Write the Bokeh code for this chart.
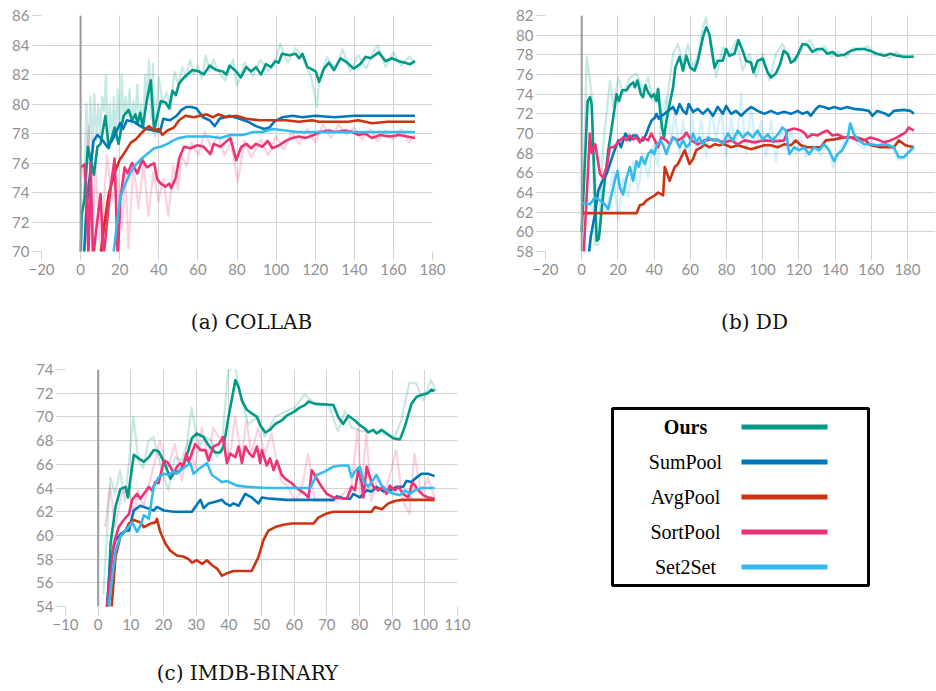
from bokeh.plotting import figure
from bokeh.models import Range1d, FixedTicker, Span, ColumnDataSource, BoxAnnotation
from bokeh.layouts import row, column
from bokeh.embed import file_html
from bokeh.resources import INLINE
from bokeh.core.properties import value

# ---------------- data ----------------
methods = ["Ours", "SumPool", "AvgPool", "SortPool", "Set2Set"]
colors = ["#009988", "#0077BB", "#CC3311", "#EE3377", "#33BBEE"]
legend_styles = ["bold", "normal", "normal", "normal", "normal"]
captions_top = ["(a) COLLAB", "(b) DD"]
captions_bottom = ["(c) IMDB-BINARY"]

a_xticks = [-20, 0, 20, 40, 60, 80, 100, 120, 140, 160, 180]
a_yticks = [70, 72, 74, 76, 78, 80, 82, 84, 86]
b_xticks = [-20, 0, 20, 40, 60, 80, 100, 120, 140, 160, 180, 200]
b_yticks = [58, 60, 62, 64, 66, 68, 70, 72, 74, 76, 78, 80, 82]
c_xticks = [-10, 0, 10, 20, 30, 40, 50, 60, 70, 80, 90, 100, 110]
c_yticks = [54, 56, 58, 60, 62, 64, 66, 68, 70, 72, 74]

# (a) COLLAB, smoothed curves
a_ours_x = [0, 0.5, 2, 3.7, 6.8, 8.6, 10.2, 12.7, 14.4, 17.4, 19.4, 22, 24.6, 26.3, 28, 29.1, 30.5, 31.8, 33.8, 35.9, 37.6, 41, 43.5, 45.3, 47, 48.7, 50.4, 52.9, 57.2, 60.6, 63, 66, 69.4, 72.8, 74.5, 76.2, 79.6, 82, 84.7, 87.2, 89.7, 92.3, 94.8, 97.4, 99.6, 101.3, 103, 106.7, 110, 111.8, 113.5, 116, 117.7, 120.3, 122, 124.5, 127, 129.6, 133, 136.4, 139.7, 143, 145.8, 148.3, 152.5, 156, 159.3, 162.7, 166, 168.6, 171]
a_ours_y = [69, 72.5, 73.5, 77.1, 75.2, 77.1, 77.3, 79.2, 77.0, 78.4, 77.3, 79.2, 79.6, 78.9, 79.3, 78.7, 79.4, 78.4, 80.2, 81.6, 78.2, 80.2, 80.1, 79.7, 80.9, 80.6, 81.4, 81.8, 82.3, 82.2, 82.0, 82.6, 82.3, 82.2, 82.0, 82.6, 82.2, 81.8, 82.5, 82.2, 82.5, 82.0, 82.7, 82.5, 82.9, 82.8, 83.4, 83.3, 83.4, 83.1, 83.4, 82.5, 82.4, 82.2, 81.5, 82.4, 82.8, 82.3, 83.1, 82.8, 82.4, 82.7, 83.2, 83.1, 83.5, 82.9, 83.1, 82.9, 82.8, 82.7, 82.9]
a_sum_x = [1.5, 3, 6.6, 8.6, 11, 13.6, 16, 20.3, 21.7, 23.7, 27.1, 30.5, 33.9, 37.3, 40.6, 42.3, 45.7, 49.1, 51.6, 54.2, 56.7, 59.3, 62.6, 66, 68.6, 71.1, 76.2, 81.3, 85.6, 89.7, 93.9, 96.6, 99, 103.3, 108.3, 113.5, 120, 130, 140, 150, 160, 171]
a_sum_y = [69, 73, 77.5, 77.9, 77.6, 77.1, 77.5, 78.7, 78.3, 78.9, 78.8, 78.5, 78.3, 78.2, 78.1, 79.0, 78.9, 79.2, 79.6, 79.8, 79.8, 79.7, 79.1, 78.9, 78.5, 79.0, 79.2, 79.0, 78.8, 78.5, 78.3, 78.4, 78.8, 79.1, 79.2, 79.1, 79.2, 79.1, 79.2, 79.2, 79.2, 79.2]
a_avg_x = [10, 12.4, 14.4, 17.4, 19.9, 22.5, 25.8, 28.2, 31.6, 35, 37.6, 40.1, 41.8, 44.4, 47.7, 50.4, 53.6, 57.9, 61.2, 64.4, 67.7, 70.3, 74.5, 79.6, 84.7, 91.4, 98.1, 104.9, 111.6, 118.4, 121.8, 128.5, 137, 142, 149, 157, 171]
a_avg_y = [69.5, 72.1, 73.9, 75.3, 76.2, 76.7, 77.4, 77.6, 78.1, 78.5, 78.2, 78.3, 77.9, 78.2, 78.4, 78.9, 79.2, 79.1, 79.2, 79.3, 79.1, 79.3, 79.1, 79.2, 79.0, 78.9, 78.9, 78.9, 78.8, 78.9, 78.8, 78.8, 78.8, 78.9, 78.7, 78.8, 78.8]
a_sort_x = [0, 2, 3, 4, 5.1, 6.4, 8, 10.2, 11.7, 13.6, 15.5, 17.4, 19, 20.3, 22.5, 24.1, 26.3, 29, 31.6, 33.9, 37.6, 39.2, 41, 43.5, 45.3, 46.4, 48.7, 50.4, 52.9, 56.3, 59.7, 63, 66.4, 68.1, 71.5, 74.9, 76.6, 79.6, 82.2, 84.7, 87.2, 89.7, 93, 95.7, 98.1, 101.6, 104.9, 108.3, 111.6, 115, 119.2, 122.6, 126.9, 130.2, 135.3, 139, 142.2, 145.5, 149, 153.2, 158, 163, 167, 171]
a_sort_y = [75.7, 75.9, 74.3, 69.5, 76.0, 69.5, 71.5, 73.9, 69.5, 72.1, 74.5, 76.3, 69.5, 73.5, 75.7, 75.3, 76.0, 75.3, 76.2, 75.7, 76.0, 74.9, 74.6, 74.4, 74.6, 74.3, 75.0, 76.3, 77.1, 77.0, 77.2, 77.1, 76.6, 77.3, 77.1, 77.5, 77.7, 76.2, 77.1, 77.3, 77.0, 77.3, 77.1, 77.5, 77.0, 77.2, 77.5, 77.7, 77.8, 77.7, 77.9, 78.1, 78.2, 78.1, 78.2, 78.1, 77.9, 78.0, 77.7, 77.9, 77.8, 77.9, 77.8, 77.7]
a_s2s_x = [16.5, 19, 20.3, 22.9, 25.4, 27.1, 30.5, 33.9, 37.6, 41, 44.4, 47, 50.4, 54.6, 61.2, 66, 71.5, 76.6, 83, 88.3, 93, 98.1, 104.9, 111, 120, 135, 150, 160, 171]
a_s2s_y = [69.5, 72.3, 73.7, 74.6, 75.3, 75.7, 76.2, 76.6, 77.0, 77.1, 77.3, 77.5, 77.7, 77.8, 77.8, 77.8, 77.7, 77.9, 77.9, 78.1, 78.1, 78.3, 78.2, 78.1, 78.1, 78.1, 78.1, 78.1, 78.1]
# (a) raw (unsmoothed) traces
a_ours_raw_x = [0, 2, 3, 4, 5, 6, 7, 8, 9, 10, 11, 12, 13, 14, 15, 16, 17, 18, 19, 20, 21, 22, 23, 24, 25, 26, 27, 28, 29, 30, 31, 32, 33, 34, 35, 36, 37, 38, 40, 42, 44, 46, 48, 50, 52, 54, 56, 58, 60, 62, 64, 66, 68, 70, 74, 78, 80, 84, 88, 92, 96, 100, 102, 106, 110, 114, 118, 121, 122, 126, 130, 134, 138, 142, 146, 150, 152, 156, 160, 164, 168, 171]
a_ours_raw_y = [70, 75, 80, 76, 80.5, 77, 80.7, 77.5, 80, 78, 80.5, 79.5, 82, 77, 80, 77.5, 80.5, 77.6, 81, 78, 82, 79, 80.5, 79.2, 81, 78.6, 80.2, 79, 81.3, 78.5, 80, 78, 82, 80, 83, 79, 82.7, 77.8, 81.8, 80, 80.8, 79.6, 82.2, 81.3, 82.5, 81.8, 83, 82, 82.6, 81.7, 83.3, 82.2, 83, 82.3, 81.6, 83, 81.2, 82.8, 81.9, 83, 82.2, 83.1, 84.1, 82.8, 83.8, 83, 81.8, 79.8, 81.6, 83.2, 82.3, 83.7, 82.2, 83.3, 82.4, 83.6, 84, 82.5, 83.5, 82.6, 83.2, 82.8]
a_sort_raw_x = [0, 2.5, 4.2, 5.9, 7.6, 10.2, 13.5, 16.1, 18.6, 21.2, 22.9, 24.5, 27.1, 29.6, 32.2, 34.7, 37.2, 39.8, 42.3, 44.9, 47.4, 49.9, 51.6, 54.2, 56.7, 60.1, 63.5, 66.9, 70.2, 73.6, 77, 80.4, 83.8, 87.2, 92.3, 96, 100, 104, 108, 112, 116, 120, 124, 128, 132, 136, 140, 144, 148, 152, 156, 160, 164, 168, 171]
a_sort_raw_y = [75.8, 74.8, 78.5, 70, 75.8, 70, 76.5, 73.4, 75.2, 71.5, 75.4, 70.2, 76, 72.9, 76, 72.4, 75.4, 73.4, 74.9, 72.4, 75.8, 74.2, 76.5, 75.8, 77.4, 76.5, 78.1, 77, 77.9, 76.5, 77.4, 74.7, 77.5, 76.4, 77.6, 76.5, 77.8, 76.9, 78.1, 77.3, 78.3, 77.4, 78.6, 77.7, 78.6, 77.9, 78.4, 77.6, 78.3, 77.5, 78.2, 77.6, 78.3, 77.4, 77.9]

# (b) DD, smoothed curves
b_ours_x = [0, 3.3, 4.6, 5.5, 8.3, 9.5, 11.9, 14.7, 17.4, 19.3, 20.6, 22.4, 24.8, 26.6, 28.4, 29.4, 30.8, 32.7, 33.9, 35.2, 36.7, 38.5, 40, 41.3, 42.2, 43.1, 44.4, 45.5, 46.8, 48.6, 50.5, 51.7, 54.1, 56, 57.8, 60, 62.4, 64.2, 67, 68.8, 70.6, 73.4, 75.2, 78, 79.8, 81.7, 84.4, 86.6, 89, 90.8, 93.6, 94.9, 97.2, 100, 102.8, 104.6, 107.3, 109.7, 111.6, 113.8, 115.6, 117.4, 119.6, 122, 124.8, 127.5, 130.3, 133, 135.8, 138.5, 141.3, 145, 148.6, 152.3, 156, 159.6, 163.3, 167, 170.6, 174.3, 178, 183.5]
b_ours_y = [60, 73.3, 73.7, 73.0, 59.1, 59.3, 63.8, 68.3, 71.6, 74.0, 73.3, 74.4, 74.4, 74.9, 75.2, 74.7, 75.4, 74.0, 73.7, 74.9, 74.2, 73.7, 74.0, 73.3, 74.5, 72.7, 70.6, 69.6, 71.3, 73.0, 74.7, 76.7, 77.8, 76.4, 77.9, 76.7, 76.4, 77.4, 79.8, 80.8, 80.1, 76.7, 77.4, 77.4, 78.6, 77.9, 78.1, 79.5, 78.4, 77.4, 77.2, 76.2, 77.4, 77.6, 76.2, 75.7, 76.1, 77.1, 78.4, 78.1, 77.2, 77.4, 78.1, 79.1, 79.0, 78.3, 78.6, 78.6, 78.1, 78.3, 77.9, 78.0, 78.4, 78.6, 78.6, 78.4, 78.1, 77.9, 78.1, 77.9, 77.8, 77.8]
b_sum_x = [3.5, 5, 7.3, 9.2, 11, 13.8, 15.6, 17.4, 20.2, 21.7, 24.2, 26.6, 28.4, 30.3, 32.1, 33.9, 35.8, 36.7, 38.5, 40.4, 41.3, 42.6, 44, 45.9, 47.7, 50.5, 52.3, 54.1, 56, 57.8, 59.1, 61.5, 64.2, 67, 69.7, 72.5, 75.2, 78, 79.8, 82.6, 85.3, 88.1, 90.8, 93.6, 97.2, 100.9, 104.6, 108.3, 111.9, 115.6, 119.3, 122, 124.8, 126.6, 129.4, 131.2, 133.9, 136.7, 139.4, 143.1, 146.8, 150.5, 156, 158.7, 160.6, 163.3, 167.9, 169.7, 172.5, 178, 181.7, 183.5]
b_sum_y = [57, 59.5, 61.8, 64.2, 65.0, 65.9, 66.9, 67.9, 69.3, 68.6, 70.0, 69.3, 69.8, 69.8, 69.3, 69.3, 70.0, 70.5, 71.3, 71.6, 72.0, 71.5, 71.8, 72.0, 72.3, 72.7, 72.0, 73.0, 72.3, 72.0, 73.0, 72.2, 72.5, 72.0, 72.5, 71.8, 72.7, 72.0, 72.8, 72.0, 72.3, 71.8, 72.3, 72.7, 72.3, 72.0, 72.3, 72.0, 72.2, 72.0, 72.3, 72.0, 72.2, 71.8, 72.5, 72.8, 72.7, 72.5, 72.7, 72.5, 72.7, 72.5, 72.4, 72.3, 71.8, 72.3, 72.0, 71.8, 72.3, 72.4, 72.3, 72.0]
b_avg_x = [0, 30.3, 32.1, 33.9, 35.8, 38.5, 40.4, 42.2, 45, 45.9, 48.6, 51.4, 53.2, 55, 56.9, 59.6, 61.5, 63.3, 66.1, 67.9, 70.6, 73.4, 76.1, 78.9, 82.6, 86.2, 89.9, 93.6, 97.2, 100.9, 104.6, 108.3, 111.9, 115.6, 118.3, 121.1, 124.8, 132.1, 134.9, 139.4, 145, 152.3, 156.9, 159.6, 165.1, 172.5, 175.2, 178.9, 183.5]
b_avg_y = [61.9, 61.9, 62.7, 62.8, 63.2, 63.5, 63.7, 64.0, 63.7, 66.6, 65.2, 66.6, 66.9, 67.6, 68.3, 66.9, 67.4, 68.3, 68.6, 68.9, 68.6, 68.9, 68.8, 68.9, 68.6, 68.8, 68.6, 68.4, 68.6, 68.8, 68.8, 68.6, 68.9, 68.8, 69.3, 68.8, 68.6, 68.6, 69.3, 69.4, 69.6, 69.6, 69.3, 68.8, 68.6, 68.6, 69.3, 68.8, 68.6]
b_sort_x = [1, 2.8, 4.5, 5.5, 7.5, 10.1, 11.9, 13.8, 15.6, 17.4, 19.3, 21.1, 22.9, 24.8, 26.6, 28.4, 30.3, 32.1, 33.9, 36.7, 38.5, 40.4, 42.2, 44, 46.8, 48.6, 50.5, 53.2, 56, 57.8, 60.6, 64.2, 67.9, 71.6, 75.2, 78.9, 82.6, 86.2, 89.9, 95.4, 100.9, 106.4, 111.9, 113.8, 117.4, 121.1, 122.9, 124.8, 127.5, 130.3, 133, 135.8, 138.5, 141.3, 145, 148.6, 152.3, 156, 159.6, 163.3, 167, 170.6, 174.3, 177, 178.9, 180.7, 183.5]
b_sort_y = [57.5, 63.8, 70.0, 68.0, 68.9, 65.9, 65.5, 66.6, 68.6, 68.6, 68.9, 69.3, 69.6, 69.3, 69.8, 69.4, 69.6, 69.1, 69.6, 69.3, 70.0, 69.3, 68.6, 69.6, 69.3, 68.9, 69.6, 69.3, 69.6, 70.1, 69.3, 68.9, 69.3, 69.4, 69.3, 69.1, 69.3, 68.9, 69.3, 69.1, 69.3, 69.2, 69.3, 70.3, 70.5, 70.3, 70.1, 69.6, 69.9, 69.8, 70.1, 70.3, 69.8, 69.9, 69.6, 69.6, 69.3, 69.3, 69.6, 69.4, 69.1, 69.3, 69.6, 69.9, 70.1, 70.6, 70.3]
b_s2s_x = [0.5, 4.6, 7.3, 10.1, 12.8, 14.7, 16.5, 18.3, 19.8, 21.1, 22.9, 24.8, 26.6, 28.4, 30.3, 31.6, 33, 34.9, 36.7, 38.5, 40, 41.8, 43.7, 45.5, 46.8, 48.6, 50.5, 52.3, 54.1, 56, 57.8, 59.6, 61.5, 63.3, 65.1, 67, 69.7, 72.5, 75.2, 78, 80.7, 83.5, 86.2, 89, 91.7, 94.5, 97.2, 100, 102.8, 105.5, 108.3, 111, 112.8, 114.7, 117.4, 120.2, 122.9, 125.7, 128.4, 131.2, 133.9, 136.7, 139.4, 141.3, 144, 146.8, 148.3, 150.5, 153.2, 156, 159.6, 163, 168, 172.5, 175.2, 178, 180.7, 183.5]
b_s2s_y = [62.9, 62.8, 63.5, 63.2, 62.8, 62.3, 63.8, 65.2, 66.2, 64.5, 63.8, 65.5, 66.6, 65.2, 67.2, 66.6, 67.6, 66.9, 67.9, 68.3, 67.9, 68.9, 69.3, 68.6, 67.9, 68.9, 69.6, 69.3, 68.6, 69.3, 68.6, 68.9, 70.0, 69.1, 69.6, 68.9, 69.6, 69.3, 69.4, 68.9, 70.0, 69.3, 70.3, 69.6, 70.1, 69.6, 70.3, 69.4, 69.9, 69.3, 69.9, 70.6, 70.3, 67.9, 68.6, 68.3, 68.6, 67.9, 68.6, 68.3, 68.9, 68.3, 67.2, 67.9, 68.3, 69.3, 71.0, 69.9, 69.3, 68.9, 68.9, 68.8, 68.9, 68.6, 67.6, 67.6, 68.1, 68.6]
# (b) raw traces
b_ours_raw_x = [0, 2.8, 5.5, 7.3, 9.2, 11.9, 15.6, 17.4, 20.2, 22.9, 26.6, 30.3, 33.9, 36.7, 39.4, 42.2, 45, 47.7, 50.5, 53.2, 56, 58.7, 61.5, 64.2, 67, 68.8, 71.6, 74.3, 78, 81.7, 85.3, 89, 92.7, 96.3, 100, 103.7, 107.3, 111, 114.7, 118.3, 122, 126, 130, 134, 138, 142, 146, 150, 154, 158, 162, 166, 170, 174, 178, 183.5]
b_ours_raw_y = [60, 77.8, 74, 58.7, 58.7, 68.9, 75.4, 72.7, 75.7, 74, 75.7, 76.1, 74.4, 75.7, 73.3, 74.7, 71.3, 74, 78.1, 79.1, 77.1, 79.1, 76.7, 77.8, 80.8, 81.8, 78.4, 75.7, 78.8, 77.8, 79.5, 76.4, 78.1, 75.7, 78.1, 75.4, 78.1, 79.1, 77.8, 77.4, 78.8, 79.5, 78.2, 78.9, 77.8, 78.3, 77.7, 78.7, 78.4, 78.9, 77.9, 78.2, 77.6, 78.3, 77.6, 77.9]
b_s2s_raw_x = [0.5, 2.8, 6.4, 10.1, 13.8, 17.4, 20.2, 22.9, 25.7, 28.4, 31.2, 33.9, 36.7, 39.4, 42.2, 44, 46.8, 49.5, 51.4, 54.1, 56, 58.7, 60.6, 63.3, 66.1, 68.8, 71.6, 74.3, 77.1, 79.8, 82.6, 85.3, 88.1, 90.8, 93.6, 96.3, 99.1, 101.8, 104.6, 107.3, 110.1, 112.8, 115.6, 118.3, 121.1, 123.9, 128, 132, 136, 139, 143, 147, 149, 152, 156, 160, 165, 170, 175, 179, 183.5]
b_s2s_raw_y = [62.9, 63.5, 62.1, 64.9, 62.1, 66.2, 61.1, 65.5, 63.5, 67.2, 64.2, 67.9, 65.5, 68.9, 66.6, 72.3, 73.7, 68.9, 72.3, 67.9, 71.3, 66.9, 72, 68.3, 71.3, 67.6, 72.3, 69.6, 72.3, 67.6, 71.6, 68.3, 74, 67.9, 72.7, 68.3, 71.3, 67.6, 71.3, 67.2, 70.6, 68.3, 70.3, 67.9, 69.6, 67.6, 68.9, 67.8, 68.8, 66.5, 68.5, 70, 71.2, 69, 68.5, 69.2, 68.4, 69, 67.3, 67.6, 68.8]

# (c) IMDB-BINARY, smoothed curves
c_ours_x = [2.8, 3.8, 5.3, 6.8, 8.4, 9.1, 10.9, 12.4, 14, 15.5, 17, 18.5, 19.6, 20.6, 22.1, 23.1, 25.2, 26.7, 28.7, 30.2, 32.3, 33.8, 35.8, 37.4, 38.4, 39.9, 42, 43, 44, 45.5, 47, 48.6, 49.6, 51.1, 52.6, 54.2, 56.2, 57.7, 59.8, 61.8, 63.3, 64.4, 66.4, 72, 73.5, 75, 76.6, 78.6, 80.1, 81.7, 82.7, 84.2, 85.2, 86.8, 88.8, 90.3, 92.4, 93.9, 95.9, 97.5, 99.5, 101, 102, 103]
c_ours_y = [53.5, 59.3, 62.4, 63.9, 64.1, 63.2, 66.8, 66.5, 66.2, 66.6, 67.2, 67.1, 66.5, 65.9, 64.8, 65.2, 65.5, 66.3, 68.2, 68.6, 68.3, 67.6, 67.0, 67.0, 67.5, 70.0, 73.1, 72.5, 71.4, 70.6, 70.3, 70.0, 69.3, 68.7, 68.9, 69.4, 69.7, 70.1, 70.4, 70.8, 71.0, 71.3, 71.1, 71.0, 70.0, 69.4, 70.1, 69.7, 69.3, 69.0, 68.7, 68.9, 68.6, 68.9, 68.5, 68.2, 68.1, 69.2, 71.1, 71.7, 71.9, 72.0, 72.3, 72.2]
c_sum_x = [2.5, 3.8, 5.3, 6.8, 8.4, 9.4, 10.9, 11.9, 12.9, 15, 17, 18, 20.1, 23.1, 28.7, 31.3, 32.3, 33.8, 35.3, 37.9, 38.9, 40.4, 41.4, 43, 45, 47, 49.1, 50.1, 52.6, 57.7, 72, 73, 75.6, 77.1, 78.1, 80.1, 82.2, 83.7, 85.2, 87.3, 89.3, 91.3, 93.4, 94.4, 95.9, 97.5, 99, 101, 103]
c_sum_y = [53.5, 57.9, 59.6, 60.1, 60.4, 60.4, 62.1, 62.3, 62.5, 62.3, 62.1, 62.4, 62.1, 62.0, 62.0, 63.0, 62.3, 62.7, 62.8, 63.0, 62.7, 62.5, 62.7, 62.5, 63.5, 63.2, 62.7, 63.2, 63.1, 63.0, 63.0, 63.3, 63.1, 63.1, 63.5, 63.2, 63.8, 63.7, 64.1, 63.7, 63.8, 64.1, 64.1, 64.6, 64.5, 64.9, 65.2, 65.2, 65.0]
c_avg_x = [4, 5.3, 6.8, 8.4, 9.4, 10.9, 12.9, 14, 16, 17.5, 18, 19, 20.6, 22.1, 24.1, 26.2, 27.7, 28.7, 30.2, 31.8, 33.3, 34.8, 36.4, 37.9, 39.4, 41.4, 47, 49.1, 50.6, 52.1, 54.2, 56.7, 59.3, 65.9, 67.4, 69.5, 72, 83.7, 84.7, 86.8, 88.8, 90.8, 92.9, 103]
c_avg_y = [53.5, 58.2, 59.9, 60.4, 61.0, 61.3, 61.1, 60.7, 61.0, 61.1, 61.4, 60.3, 59.3, 58.7, 58.3, 58.2, 58.0, 57.7, 57.9, 57.6, 57.9, 57.5, 57.2, 56.6, 56.8, 57.0, 57.0, 58.2, 59.6, 60.4, 60.7, 60.9, 61.0, 61.0, 61.5, 61.8, 62.0, 62.0, 62.4, 62.2, 62.7, 62.9, 63.0, 63.0]
c_sort_x = [2.5, 4.8, 6.3, 7.8, 9.4, 10.4, 11.9, 12.9, 14.5, 15.5, 16.5, 17.5, 18.5, 20.1, 21.1, 22.1, 23.1, 24.1, 25.2, 26, 27, 27.7, 29.7, 31.3, 32.8, 33.8, 35.3, 36.9, 38.2, 39.4, 40.4, 42, 43, 44, 45, 46.3, 47.4, 48.6, 49.6, 50.1, 51.6, 52.6, 53.7, 54.7, 56.2, 57.2, 58.2, 59.3, 60.3, 61.8, 63.3, 64.4, 65.4, 66.9, 68.4, 70, 72, 76.1, 77.6, 78.6, 79.6, 80.7, 81.2, 82.2, 83.2, 84.2, 85.7, 87.3, 88.3, 89.3, 90.8, 91.9, 93.4, 94.9, 96.2, 98, 99.5, 101, 103]
c_sort_y = [53.5, 59.3, 60.7, 61.3, 61.8, 63.0, 63.5, 63.1, 63.7, 64.1, 63.8, 64.5, 64.4, 66.3, 66.2, 65.8, 65.2, 65.8, 66.1, 65.8, 66.9, 66.2, 67.7, 67.2, 67.2, 66.3, 67.5, 67.7, 68.3, 66.1, 66.9, 66.6, 67.5, 66.1, 67.5, 66.9, 66.6, 67.5, 66.1, 67.2, 65.9, 66.5, 65.5, 66.3, 65.1, 64.8, 64.6, 64.4, 64.1, 63.8, 63.5, 63.2, 65.5, 64.8, 64.1, 63.5, 63.2, 63.1, 64.1, 63.8, 65.5, 64.4, 63.2, 65.8, 64.9, 64.1, 63.8, 64.1, 63.5, 64.2, 63.8, 64.1, 63.5, 63.2, 64.5, 63.8, 63.4, 63.2, 63.1]
c_s2s_x = [3, 5.3, 6.8, 8.4, 10.4, 11.9, 12.9, 14, 15.5, 17, 18.5, 20.1, 21.6, 23.1, 24.1, 25.7, 27.2, 28.2, 29.2, 30.8, 32.3, 33.3, 34.8, 36.4, 37.9, 39.4, 40.9, 42.5, 45.5, 51.6, 64.9, 66.9, 69.5, 72, 74.5, 76.6, 77.6, 78.6, 80.1, 81.2, 82.7, 85.2, 86.8, 88.8, 90.8, 92.4, 93.9, 95.4, 96.9, 99, 103]
c_s2s_y = [53.5, 58.7, 59.9, 60.4, 61.1, 60.3, 60.8, 61.7, 61.4, 64.1, 64.9, 65.2, 65.1, 65.4, 65.2, 65.6, 65.9, 66.1, 65.2, 65.6, 65.9, 66.1, 65.1, 64.8, 64.5, 64.6, 64.4, 64.2, 64.1, 64.0, 64.0, 65.1, 65.4, 65.8, 65.9, 65.9, 64.9, 65.4, 65.8, 64.6, 64.1, 65.1, 64.2, 63.7, 63.5, 63.4, 63.8, 63.5, 63.8, 64.0, 64.0]
# (c) raw traces
c_ours_raw_x = [1.6, 3.7, 5.2, 6.7, 8.2, 10.8, 12.3, 13.8, 15.4, 16.9, 19.5, 21.5, 23.5, 25.6, 27.1, 28.6, 30.7, 32.7, 34.7, 36.3, 37.8, 39.8, 41.9, 43.9, 45.9, 49, 51, 54.1, 56.1, 60.2, 63.2, 66.3, 70.4, 73.4, 75.5, 77.5, 80.5, 83.6, 86.7, 90.7, 92.8, 95.3, 97.4, 99.4, 101.9, 103.5]
c_ours_raw_y = [55, 64.9, 63.5, 65.5, 62.9, 70, 66.3, 65.7, 68, 68.3, 65.5, 63.8, 66.6, 66.3, 67.7, 70.8, 67.4, 68.3, 68, 66.6, 67.4, 73.9, 74.2, 71.4, 69.4, 70, 68.3, 70, 70.3, 70.8, 71.9, 71.1, 71.1, 68.8, 70.5, 69.1, 68.8, 68.8, 68.6, 68.3, 69.7, 72.9, 72.8, 71.4, 73.1, 72.2]
c_sort_raw_x = [2.1, 3.7, 5.2, 7.2, 9.3, 10.8, 12.3, 13.8, 15.4, 17.4, 18.9, 21, 23.5, 25.6, 27.6, 29.6, 31.7, 33.7, 35.2, 36.8, 38.3, 40.3, 41.9, 43.9, 45.4, 46.9, 49, 51, 53.1, 54.6, 56.1, 58.1, 60.2, 62.2, 64.3, 66.3, 70.4, 72.4, 77.5, 79.5, 80.5, 82.1, 83.6, 85.6, 87.7, 89.7, 91.2, 93.3, 95.3, 96.8, 98.9, 100.9, 103]
c_sort_raw_y = [60.7, 64.1, 60.7, 63.5, 64.1, 61.8, 63.8, 62.4, 64.1, 66.3, 68, 65.5, 67.7, 64.6, 68, 65.7, 69.1, 66.6, 69.1, 68.3, 68.3, 66.6, 70, 66.6, 69.7, 66.9, 69.1, 66.9, 68.6, 66.3, 64.6, 64.1, 62.9, 63.8, 66.9, 62.9, 62.9, 62.9, 64.1, 69.1, 63.5, 68.8, 62.9, 64.9, 63.5, 65.5, 67.2, 62.9, 61.8, 66.9, 63.5, 64.9, 63.2]

a_series = [(a_ours_x, a_ours_y), (a_sum_x, a_sum_y), (a_avg_x, a_avg_y), (a_sort_x, a_sort_y), (a_s2s_x, a_s2s_y)]
b_series = [(b_ours_x, b_ours_y), (b_sum_x, b_sum_y), (b_avg_x, b_avg_y), (b_sort_x, b_sort_y), (b_s2s_x, b_s2s_y)]
c_series = [(c_ours_x, c_ours_y), (c_sum_x, c_sum_y), (c_avg_x, c_avg_y), (c_sort_x, c_sort_y), (c_s2s_x, c_s2s_y)]
a_raw = [(a_ours_raw_x, a_ours_raw_y, 0), (a_sort_raw_x, a_sort_raw_y, 3)]
b_raw = [(b_ours_raw_x, b_ours_raw_y, 0), (b_s2s_raw_x, b_s2s_raw_y, 4)]
c_raw = [(c_ours_raw_x, c_ours_raw_y, 0), (c_sort_raw_x, c_sort_raw_y, 3)]

TICK_COLOR = "#919191"
GRID_COLOR = "#d2d2d2"
CAPTION_FONT = "DejaVu Serif"


def panel(xr, yr, xticks, yticks, series, raw, width, height, bl, br, bt, bb):
    p = figure(width=width, height=height, x_range=Range1d(*xr), y_range=Range1d(*yr),
               output_backend="svg", toolbar_location=None,
               min_border_left=bl, min_border_right=br, min_border_top=bt, min_border_bottom=bb)
    p.outline_line_color = None
    p.xaxis.ticker = FixedTicker(ticks=xticks)
    p.yaxis.ticker = FixedTicker(ticks=yticks)
    for ax in (p.xaxis[0], p.yaxis[0]):
        ax.axis_line_color = None
        ax.major_tick_line_color = GRID_COLOR
        ax.major_tick_out = 9
        ax.major_tick_in = 0
        ax.minor_tick_line_color = None
        ax.major_label_text_font = "Lato"
        ax.major_label_text_font_size = "15px"
        ax.major_label_text_color = TICK_COLOR
        ax.major_label_standoff = 3
    p.xgrid.grid_line_color = GRID_COLOR
    p.ygrid.grid_line_color = GRID_COLOR
    p.add_layout(Span(location=0, dimension="height", line_color="#9a9a9a", line_width=2))
    for xs, ys, ci in raw:
        p.line(xs, ys, line_color=colors[ci], line_width=2.2, line_alpha=0.22, line_join="round")
    for (xs, ys), col in zip(series, colors):
        p.line(xs, ys, line_color=col, line_width=2.6, line_join="round")
    return p


def caption_strip(texts, centers, width, height, text_y):
    # a bare strip (no axes) that holds sub-figure captions, in pixel-like units
    c = figure(width=width, height=height, x_range=Range1d(0, width), y_range=Range1d(height, 0),
               x_axis_type=None, y_axis_type=None, output_backend="svg", toolbar_location=None,
               min_border_left=0, min_border_right=0, min_border_top=0, min_border_bottom=0)
    c.outline_line_color = None
    c.grid.visible = False
    c.text(x=centers, y=[text_y] * len(texts), text=texts, text_align="center",
           text_baseline="middle", text_font=value(CAPTION_FONT), text_font_size="20px",
           text_color="#111111")
    return c


pa = panel((-20, 180), (70, 86), a_xticks, a_yticks, a_series, a_raw, 468, 283, 41, 36, 15, 32)
pb = panel((-20, 195.5), (58, 82), b_xticks, b_yticks, b_series, b_raw, 468, 283, 77, 1, 15, 32)
cap_top = caption_strip(captions_top, [251, 754], 936, 62, 38)

pc = panel((-10, 110), (54, 74), c_xticks, c_yticks, c_series, c_raw, 480, 293, 65, 23, 24, 32)

# legend box (same vertical borders as panel (c) so the row keeps both frames aligned)
pl = figure(width=456, height=293, x_range=Range1d(-132, 324), y_range=Range1d(5.13, -1.645),
            x_axis_type=None, y_axis_type=None, output_backend="svg", toolbar_location=None,
            min_border_left=0, min_border_right=0, min_border_top=24, min_border_bottom=32)
pl.outline_line_color = None
pl.grid.visible = False
pl.add_layout(BoxAnnotation(left=0, right=256, top=-0.53, bottom=4.53, fill_alpha=0,
                            line_color="black", line_alpha=1.0, line_width=3))
idx = list(range(len(methods)))
lsrc = ColumnDataSource(dict(y=idx, name=methods, color=colors, style=legend_styles))
pl.text(x=73, y="y", text="name", source=lsrc, text_align="center", text_baseline="middle",
        text_font=value("Liberation Serif"), text_font_size="20px",
        text_font_style="style", text_color="black")
pl.segment(x0=129, y0="y", x1=215, y1="y", source=lsrc, line_color="color", line_width=5)

cap_bottom = caption_strip(captions_bottom, [247], 480, 50, 34)

layout = column(row(pa, pb), cap_top, row(pc, pl), cap_bottom)

with open("out.html", "w") as f:
    f.write(file_html(layout, INLINE))
